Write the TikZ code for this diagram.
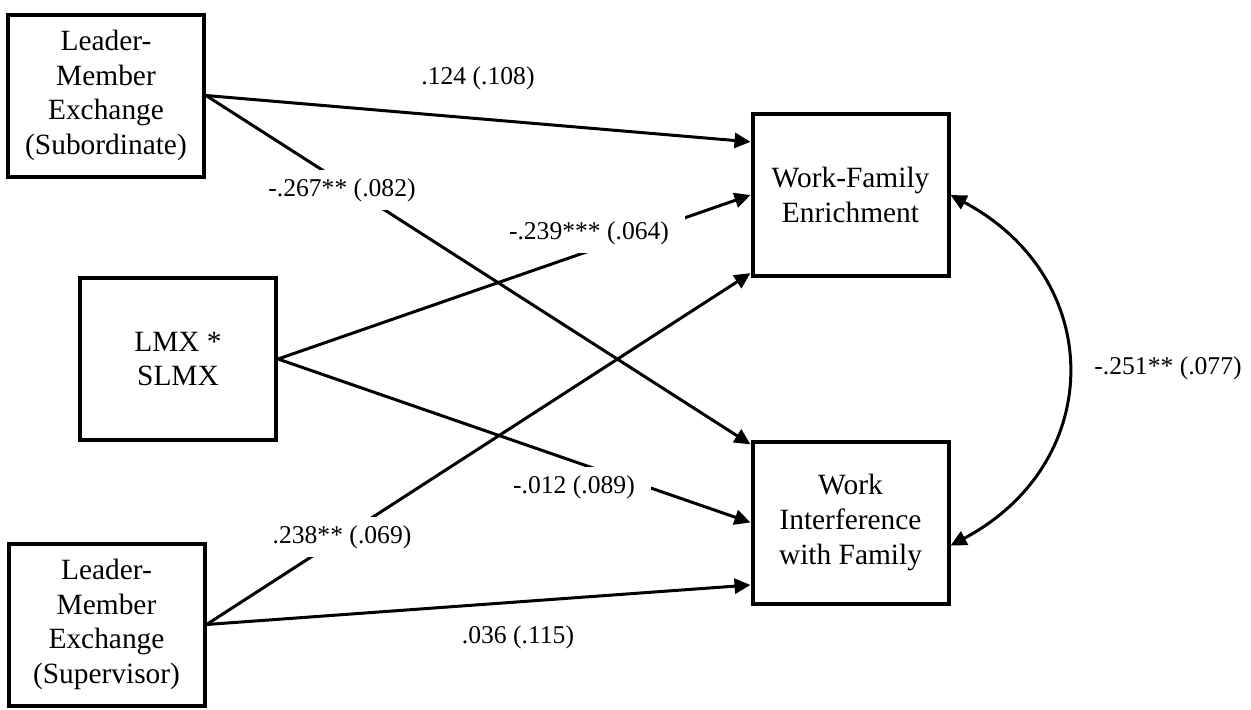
\documentclass[tikz,border=0pt]{standalone}
\usepackage{fontspec}
\setmainfont{Liberation Serif}
\usetikzlibrary{arrows.meta}

\begin{document}
\begin{tikzpicture}[x=0.5pt,y=-0.5pt,
		box/.style={draw,line width=2pt,minimum width=98pt,minimum height=81pt,align=center,font=\fontsize{14.7}{17.3}\selectfont},
		coef/.style={fill=white,inner xsep=8pt,inner ysep=4pt,font=\fontsize{12.8}{15}\selectfont},
		arr/.style={line width=1.5pt,-{Triangle[length=8pt,width=7.5pt]}}]
		\useasboundingbox (0,0) rectangle (1251,709);
		\node at (106,95.5) [box] (lmxsub) {Leader-\\Member\\Exchange\\(Subordinate)};
		\node at (178,359) [box] (inter) {LMX *\\SLMX};
		\node at (106.5,624.5) [box] (lmxsup) {Leader-\\Member\\Exchange\\(Supervisor)};
		\node at (850.5,195) [box] (wfe) {Work-Family\\Enrichment};
		\node at (850.5,522.5) [box] (wif) {Work\\Interference\\with Family};
		\draw[arr] (lmxsub.east)--(wfe.152);
		\draw[arr] (lmxsub.east)--(wif.142);
		\draw[arr] (inter.east)--(wfe.west);
		\draw[arr] (inter.east)--(wif.west);
		\draw[arr] (lmxsup.east)--(wfe.218);
		\draw[arr] (lmxsup.east)--(wif.212);
		\draw[arr,{Triangle[length=8pt,width=7.5pt]}-{Triangle[length=8pt,width=7.5pt]}] (wfe.east) .. controls +(156,83) and +(156,-83) .. (wif.-13);
		\node at (478,78) [coef] (c124) {.124 (.108)};
		\node at (342,190) [coef] (c267) {-.267** (.082)};
		\node at (589,233) [coef] (c239) {-.239*** (.064)};
		\node at (574,487) [coef] (c012) {-.012 (.089)};
		\node at (342,537) [coef] (c238) {.238** (.069)};
		\node at (518,637) [coef] (c036) {.036 (.115)};
		\node at (1168,368) [coef] (c251) {-.251** (.077)};
\end{tikzpicture}
\end{document}
